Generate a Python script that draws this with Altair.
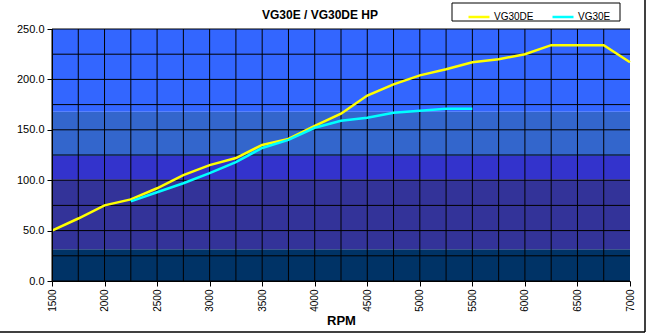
import altair as alt
import pandas as pd

# ---- data ----
rpm = [1500, 1750, 2000, 2250, 2500, 2750, 3000, 3250, 3500, 3750, 4000, 4250,
       4500, 4750, 5000, 5250, 5500, 5750, 6000, 6250, 6500, 6750, 7000]
vg30de = [50, 62, 75, 81, 92, 105, 115, 122, 135, 141, 154, 166,
          184, 195, 204, 210, 217, 220, 225, 234, 234, 234, 217]
rpm_e = [2250, 2500, 2750, 3000, 3250, 3500, 3750, 4000, 4250, 4500, 4750, 5000, 5250, 5500]
vg30e = [79, 88, 97, 107, 118, 132, 140, 152, 159, 162, 167, 169, 171, 171]
series_names = ["VG30DE", "VG30E"]
series_colors = ["#FFFF00", "#00FFFF"]

band_low = [0, 31.5, 101, 124, 168]
band_high = [31.5, 101, 124, 168, 250]
band_colors = ["#003366", "#333399", "#3333CC", "#3366CC", "#3366FF"]

x_ticks = list(range(1500, 7001, 250))
y_ticks = list(range(0, 251, 25))
chart_title = ["VG30E / VG30DE HP"]

FONT = "Liberation Sans"

lines_df = pd.DataFrame(
    {"rpm": rpm + rpm_e,
     "hp": vg30de + vg30e,
     "series": ["VG30DE"] * len(rpm) + ["VG30E"] * len(rpm_e)}
)
bands_df = pd.DataFrame({"lo": band_low, "hi": band_high, "color": band_colors})
xgrid_df = pd.DataFrame({"v": x_ticks[:-1]})
ygrid_df = pd.DataFrame({"v": y_ticks})
title_df = pd.DataFrame({"t": chart_title})
one = pd.DataFrame({"a": [0]})

xs = alt.Scale(domain=[1500, 7000], nice=False, zero=False)
ys = alt.Scale(domain=[0, 250], nice=False)

x_axis = alt.Axis(values=x_ticks, format="d", labelAngle=270, labelFontSize=10, labelFont=FONT,
                  labelColor="black", tickColor="black", tickSize=5, domainColor="black",
                  grid=False, title="RPM", titleFont=FONT, titleFontSize=13,
                  titleFontWeight="bold", titleColor="black", titlePadding=3,
                  labelPadding=3, zindex=1, labelFlush=False, labelOverlap=False)
y_axis = alt.Axis(values=y_ticks, format=".1f", labelFontSize=11, labelFont=FONT,
                  labelColor="black", tickColor="black", tickSize=5, domainColor="black",
                  grid=False, title=None, labelPadding=3, zindex=1, labelFlush=False)

bands = alt.Chart(bands_df).mark_rect().encode(
    x=alt.value(0), x2=alt.value(578),
    y=alt.Y("lo:Q", scale=ys, axis=y_axis),
    y2="hi:Q",
    fill=alt.Fill("color:N", scale=None),
)

xgrid = alt.Chart(xgrid_df).mark_rule(color="black", strokeWidth=1).encode(
    x=alt.X("v:Q", scale=xs, axis=x_axis),
    y=alt.value(0), y2=alt.value(252),
)
ygrid = alt.Chart(ygrid_df).mark_rule(color="black", strokeWidth=1).encode(
    y=alt.Y("v:Q", scale=ys),
    x=alt.value(0), x2=alt.value(578),
)

lines = alt.Chart(lines_df).mark_line(strokeWidth=2.5).encode(
    x=alt.X("rpm:Q", scale=xs),
    y=alt.Y("hp:Q", scale=ys),
    color=alt.Color("series:N",
                    scale=alt.Scale(domain=series_names, range=series_colors),
                    legend=alt.Legend(title=None, orient="none", legendX=415, legendY=-24,
                                      direction="horizontal", symbolType="stroke",
                                      symbolSize=441, symbolStrokeWidth=2.5,
                                      labelFont=FONT, labelFontSize=10, labelColor="black",
                                      columnPadding=13, padding=0, labelOffset=3)),
)

legend_box = alt.Chart(one).mark_rect(fill="white", stroke="black", strokeWidth=1).encode(
    x=alt.value(400), x2=alt.value(568), y=alt.value(-26), y2=alt.value(-8)
)

title_mark = alt.Chart(title_df).mark_text(
    font=FONT, fontSize=12, fontWeight="bold", color="black", align="center", baseline="middle"
).encode(text="t:N", x=alt.value(268), y=alt.value(-14))

border_r = alt.Chart(one).mark_rule(color="black", strokeWidth=1.5).encode(
    x=alt.value(593), y=alt.value(-29), y2=alt.value(303)
)
border_b = alt.Chart(one).mark_rule(color="black", strokeWidth=1.5).encode(
    y=alt.value(303), x=alt.value(-52), x2=alt.value(593)
)

chart = alt.layer(bands, xgrid, ygrid, lines, legend_box, title_mark, border_r, border_b).properties(
    width=578, height=252,
    autosize=alt.AutoSizeParams(type="none"),
    padding={"left": 52, "top": 29, "right": 17, "bottom": 54},
    background="white",
).configure_view(stroke=None)

chart.save("out.html", embed_options={"renderer": "svg", "actions": False})
